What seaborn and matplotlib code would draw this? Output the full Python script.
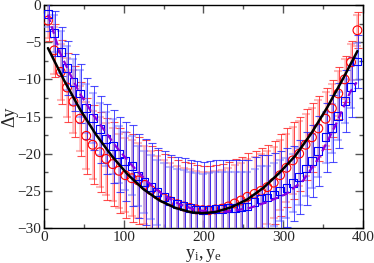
import matplotlib
matplotlib.use("Agg")
import matplotlib.pyplot as plt
import seaborn as sns
from matplotlib.ticker import MultipleLocator

# ---------------- data ----------------
x_pts = [5, 13, 21, 29, 37, 45, 53, 61, 70, 78, 86, 94, 102, 110, 118, 126, 134,
         142, 150, 158, 167, 175, 183, 191, 199, 207, 215, 223, 231, 239, 247,
         255, 264, 272, 280, 288, 296, 304, 312, 320, 328, 336, 344, 353, 361,
         369, 377, 385, 393]

red_y = [-2.1, -6.1, -9.0, -11.1, -13.0, -15.3, -17.6, -18.8, -19.8, -20.7,
         -21.4, -22.3, -22.9, -23.3, -23.6, -24.2, -24.9, -25.5, -26.0, -26.4,
         -26.8, -27.1, -27.3, -27.5, -27.6, -27.6, -27.5, -27.4, -27.1, -26.7,
         -26.3, -25.8, -25.4, -25.0, -24.5, -23.9, -22.9, -21.9, -20.9, -20.0,
         -18.8, -17.8, -16.6, -15.3, -13.9, -11.9, -10.0, -7.7, -3.4]

blue_y = [-1.2, -3.8, -6.3, -8.5, -10.4, -11.9, -13.9, -15.2, -16.7, -18.0,
          -19.0, -20.1, -21.0, -21.6, -23.0, -23.8, -24.5, -25.2, -25.8, -26.4,
          -26.8, -27.0, -27.3, -27.5, -27.6, -27.5, -27.4, -27.4, -27.3, -27.3,
          -27.2, -27.1, -26.5, -26.1, -25.9, -25.5, -25.0, -24.6, -24.0, -23.1,
          -22.0, -21.0, -19.6, -17.8, -16.6, -14.9, -12.9, -11.0, -7.6]

# light (thick) and dark (thin) error bars
red_err_light = [2.3, 3.2, 3.8, 4.0, 4.2, 4.4, 4.5, 4.6, 4.7, 4.8, 4.9, 5.0, 5.0,
                 5.1, 5.1, 5.2, 5.2, 5.2, 5.2, 5.2, 5.2, 5.2, 5.2, 5.2, 5.2, 5.2,
                 5.2, 5.2, 5.2, 5.2, 5.1, 5.1, 5.0, 5.0, 4.9, 4.8, 4.7, 4.6, 4.5,
                 4.4, 4.2, 4.0, 3.8, 3.6, 3.3, 3.0, 2.7, 2.4, 2.1]
red_err_dark = [2.8, 3.6, 4.3, 4.6, 4.8, 5.0, 5.1, 5.3, 5.4, 5.5, 5.6, 5.7, 5.8,
                5.9, 5.9, 6.0, 6.0, 6.0, 6.0, 6.0, 6.0, 6.0, 6.0, 6.0, 6.0, 6.0,
                6.0, 6.0, 6.0, 6.0, 5.9, 5.9, 5.8, 5.8, 5.7, 5.6, 5.5, 5.3, 5.2,
                5.0, 4.8, 4.6, 4.4, 4.1, 3.8, 3.5, 3.1, 2.8, 2.4]
blue_err_light = [1.8, 2.5, 2.8, 3.0, 3.1, 3.2, 3.3, 3.4, 3.5, 3.6, 3.7, 3.8,
                  3.9, 4.0, 4.1, 4.2, 4.3, 4.4, 4.5, 4.6, 4.7, 4.8, 4.8, 4.9,
                  4.9, 4.9, 4.9, 4.9, 4.8, 4.8, 4.7, 4.6, 4.5, 4.4, 4.3, 4.2,
                  4.1, 4.0, 3.9, 3.8, 3.7, 3.6, 3.5, 3.4, 3.3, 3.2, 3.0, 2.8, 2.5]
blue_err_dark = [2.3, 3.0, 3.3, 3.6, 3.8, 4.0, 4.1, 4.3, 4.5, 4.7, 4.9, 5.1,
                 5.3, 5.5, 5.6, 5.8, 5.9, 6.0, 6.1, 6.2, 6.3, 6.4, 6.4, 6.5,
                 6.5, 6.5, 6.5, 6.5, 6.4, 6.4, 6.3, 6.2, 6.0, 5.9, 5.7, 5.6,
                 5.4, 5.3, 5.1, 5.0, 4.9, 4.8, 4.7, 4.6, 4.5, 4.4, 4.2, 4.0, 3.6]

fit_x = [5, 25, 45, 65, 85, 105, 125, 145, 165, 185, 199, 215, 235, 255, 275,
         295, 315, 335, 355, 375, 393]
fit_y = [-5.8, -10.1, -14.0, -17.4, -20.3, -22.8, -24.8, -26.3, -27.3, -27.9,
         -28.0, -27.85, -27.2, -26.15, -24.6, -22.6, -20.3, -17.3, -13.8, -9.9,
         -6.2]

dash_x = [5, 20, 35, 45, 62, 72, 90, 108, 130, 150, 170, 191, 210, 230, 258,
          280, 304, 325, 345, 365, 384, 392]
dash_y = [-1.3, -6.4, -9.8, -11.9, -14.8, -16.3, -19.0, -21.3, -23.8, -25.6,
          -26.8, -27.6, -27.8, -27.8, -27.3, -26.5, -25.4, -23.6, -20.5, -16.3,
          -11.7, -10.4]

x_ticks = [0, 100, 200, 300, 400]
y_ticks = [-30, -25, -20, -15, -10, -5, 0]

# ---------------- plotting ----------------
sns.set_style("ticks")
plt.rcParams['font.family'] = ['Liberation Serif', 'DejaVu Serif']
plt.rcParams['mathtext.fontset'] = 'custom'
plt.rcParams['mathtext.rm'] = 'Liberation Serif'
plt.rcParams['mathtext.it'] = 'Liberation Serif'

fig = plt.figure(figsize=(3.74, 2.63), dpi=100)
ax = fig.add_axes([0.1176, 0.133, 0.853, 0.848])

# red error bars
ax.errorbar(x_pts, red_y, yerr=red_err_light, fmt='none', ecolor='#ff8080',
            elinewidth=1.8, capsize=3.2, capthick=1.5, alpha=0.55, zorder=1)
ax.errorbar([v + 1.3 for v in x_pts], red_y, yerr=red_err_dark, fmt='none',
            ecolor='#ff2020', elinewidth=0.7, capsize=3.0, capthick=0.8,
            alpha=0.8, zorder=2)
# blue error bars
ax.errorbar(x_pts, blue_y, yerr=blue_err_light, fmt='none', ecolor='#8080ff',
            elinewidth=1.8, capsize=3.2, capthick=1.5, alpha=0.55, zorder=3)
ax.errorbar([v + 1.3 for v in x_pts], blue_y, yerr=blue_err_dark, fmt='none',
            ecolor='#2020ff', elinewidth=0.7, capsize=3.0, capthick=0.8,
            alpha=0.8, zorder=4)

sns.scatterplot(x=x_pts, y=red_y, ax=ax, marker='o', s=40, facecolors='none',
                edgecolor='#ff0000', linewidth=0.8, zorder=5, legend=False)
sns.scatterplot(x=x_pts, y=blue_y, ax=ax, marker='s', s=32, facecolors='none',
                edgecolor='#0000ff', linewidth=0.8, zorder=6, legend=False)

sns.lineplot(x=dash_x, y=dash_y, ax=ax, color='#8a00e0', lw=1.6,
             linestyle=(0, (3.5, 2)), zorder=7, sort=False)
sns.lineplot(x=fit_x, y=fit_y, ax=ax, color='black', lw=1.8, zorder=8,
             sort=False)

ax.set_xlim(0, 400)
ax.set_ylim(-30, 0)
ax.set_xticks(x_ticks)
ax.set_yticks(y_ticks)
ax.xaxis.set_minor_locator(MultipleLocator(50))
ax.yaxis.set_minor_locator(MultipleLocator(2.5))
ax.tick_params(which='both', direction='in', top=True, right=True,
               labelsize=11, color='#555555', pad=2)
ax.tick_params(which='major', length=6, width=1.0)
ax.tick_params(which='minor', length=3, width=1.0)
for sp in ax.spines.values():
    sp.set_linewidth(1.0)
    sp.set_color('black')

ax.set_xlabel(r'$\mathregular{y_i, y_e}$', fontsize=13)
ax.xaxis.set_label_coords(0.5, -0.085)
ax.set_ylabel('Δy', fontsize=13)
ax.yaxis.set_label_coords(-0.08, 0.5)

fig.savefig('out.png', dpi=100)
